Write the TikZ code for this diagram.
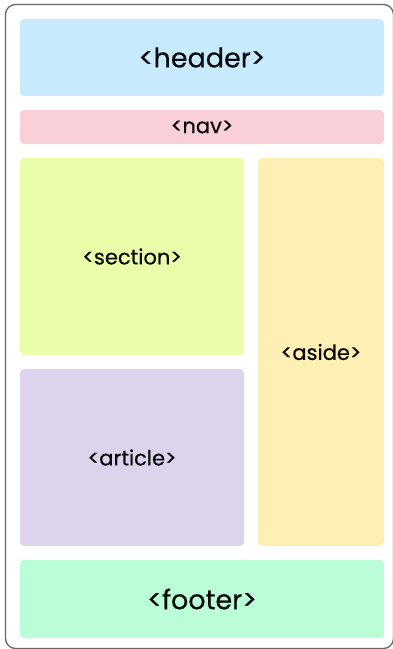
\documentclass[tikz,border=0pt]{standalone}
\usepackage{fontspec}
\setmainfont{Poppins}
\newfontfamily\letra{Poppins}[FakeBold=0.5]
\usepackage{tikz}

\definecolor{cheader}{HTML}{C8EAFD}
\definecolor{cnav}{HTML}{F9D0D8}
\definecolor{csection}{HTML}{EAFDA8}
\definecolor{caside}{HTML}{FEF0B4}
\definecolor{carticle}{HTML}{DDD3EC}
\definecolor{cfooter}{HTML}{BBFDD6}
\definecolor{ctexto}{HTML}{0A0A0A}

\tikzset{
	caja/.style={rounded corners=4pt, inner sep=0pt, text=ctexto, font=\letra\fontsize{21}{24}\selectfont},
	grande/.style={font=\letra\fontsize{27}{30}\selectfont}
}

\begin{document}
\begin{tikzpicture}[x=1pt,y=-1pt]
		
		\useasboundingbox (0,0) rectangle (393,649);
		
		% Marco exterior
		\draw[gray!80!black, line width=1.3pt, rounded corners=10pt] (5.5,4.5) rectangle (393.5,648.5);
		
		% Bloques de la pagina
		\node[caja, grande, fill=cheader, minimum width=364pt, minimum height=77pt] (header) at (202,57.5) {<header>};
		\node[caja, fill=cnav, minimum width=364pt, minimum height=34pt] (nav) at (202,127) {<nav>};
		\node[caja, fill=csection, minimum width=224pt, minimum height=197pt] (section) at (132,256.5) {<section>};
		\node[caja, fill=carticle, minimum width=224pt, minimum height=177pt] (article) at (132,457.5) {<article>};
		\node[caja, fill=caside, minimum width=126pt, minimum height=388pt] (aside) at (321,352) {<aside>};
		\node[caja, grande, fill=cfooter, minimum width=364pt, minimum height=78pt] (footer) at (202,599) {<footer>};
		
	\end{tikzpicture}
\end{document}
